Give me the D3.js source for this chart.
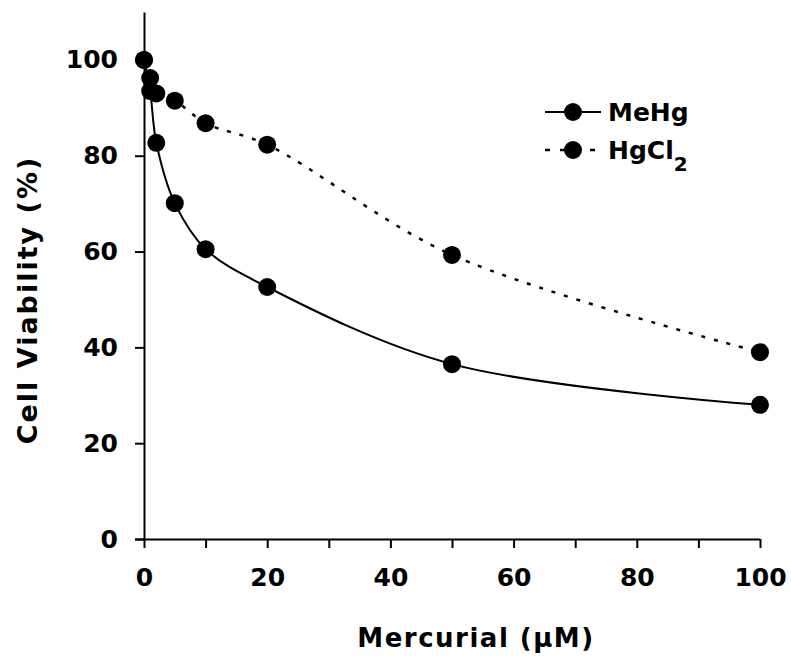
<!DOCTYPE html>
<html lang="en">
<head>
    <meta charset="UTF-8">
    <title>Cell Viability</title>
    <script src="https://d3js.org/d3.v7.min.js"></script>
    <style>
        body { margin: 0; background: #fff; }
        text { font-family: "DejaVu Sans", Verdana, sans-serif; font-weight: bold; fill: #000; }
        .axis path, .axis line { stroke: #000; stroke-width: 2px; }
    </style>
</head>
<body>
    <svg width="791" height="656"></svg>
    <script>
        // data
        const doses = [0, 1, 2, 5, 10, 20, 50, 100];
        const meHg = [100, 93.5, 82.7, 70.1, 60.5, 52.6, 36.5, 28];
        const hgCl2 = [100, 96.2, 93, 91.5, 86.8, 82.3, 59.3, 39];
        const xTicks = [0, 10, 20, 30, 40, 50, 60, 70, 80, 90, 100];
        const yTicks = [0, 20, 40, 60, 80, 100];

        const svg = d3.select("svg");
        const x = d3.scaleLinear().domain([0, 100]).range([144, 760]);
        const y = d3.scaleLinear().domain([0, 110]).range([539, 12]);

        // axes
        svg.append("g")
            .attr("class", "axis")
            .attr("transform", "translate(0,539)")
            .call(d3.axisBottom(x).tickValues(xTicks).tickSize(9).tickSizeOuter(0)
                .tickFormat(d => d % 20 === 0 ? d : ""))
            .call(g => g.selectAll("text").attr("dy", "1.4em").style("font-size", "25px"));

        svg.append("g")
            .attr("class", "axis")
            .attr("transform", "translate(144,0)")
            .call(d3.axisLeft(y).tickValues(yTicks).tickSize(9).tickSizeOuter(0))
            .call(g => g.selectAll("text").attr("x", -26).style("font-size", "25px"));

        // extend x axis line left past the origin
        svg.select(".axis path").attr("d", "M135,0.5H760");

        function series(vals) {
            return doses.map((d, i) => ({x: d, y: vals[i]}));
        }

        const line = d3.line()
            .x(d => x(d.x))
            .y(d => y(d.y))
            .curve(d3.curveCatmullRom.alpha(0.5));

        const sets = [
            {name: "MeHg", data: series(meHg), dash: null, w: 2},
            {name: "HgCl2", data: series(hgCl2), dash: "4,9", w: 2.5}
        ];

        sets.forEach(s => {
            svg.append("path")
                .datum(s.data)
                .attr("fill", "none")
                .attr("stroke", "#000")
                .attr("stroke-width", s.w)
                .attr("stroke-dasharray", s.dash)
                .attr("d", line);
        });

        sets.forEach(s => {
            svg.append("g")
                .selectAll("circle")
                .data(s.data)
                .join("circle")
                .attr("cx", d => x(d.x))
                .attr("cy", d => y(d.y))
                .attr("r", 9)
                .attr("fill", "#000");
        });

        // legend
        const legend = svg.append("g");
        sets.forEach((s, i) => {
            const ly = 112 + i * 38;
            legend.append("line")
                .attr("x1", 545).attr("x2", 601)
                .attr("y1", ly).attr("y2", ly)
                .attr("stroke", "#000").attr("stroke-width", s.w)
                .attr("stroke-dasharray", s.dash ? "5,10" : null);
            legend.append("circle")
                .attr("cx", 573).attr("cy", ly).attr("r", 9).attr("fill", "#000");
        });
        legend.append("text").attr("x", 608).attr("y", 121).style("font-size", "25px").text("MeHg");
        const t2 = legend.append("text").attr("x", 608).attr("y", 159).style("font-size", "25px");
        t2.append("tspan").text("HgCl");
        t2.append("tspan").attr("dy", 12).style("font-size", "20px").text("2");

        // axis titles
        svg.append("text")
            .attr("x", 476).attr("y", 647)
            .attr("text-anchor", "middle")
            .style("font-size", "26px")
            .style("letter-spacing", "1.5px")
            .text("Mercurial (µM)");

        svg.append("text")
            .attr("transform", "translate(37,300) rotate(-90)")
            .attr("text-anchor", "middle")
            .style("font-size", "27px")
            .style("letter-spacing", "2px")
            .text("Cell Viability (%)");
    </script>
</body>
</html>
